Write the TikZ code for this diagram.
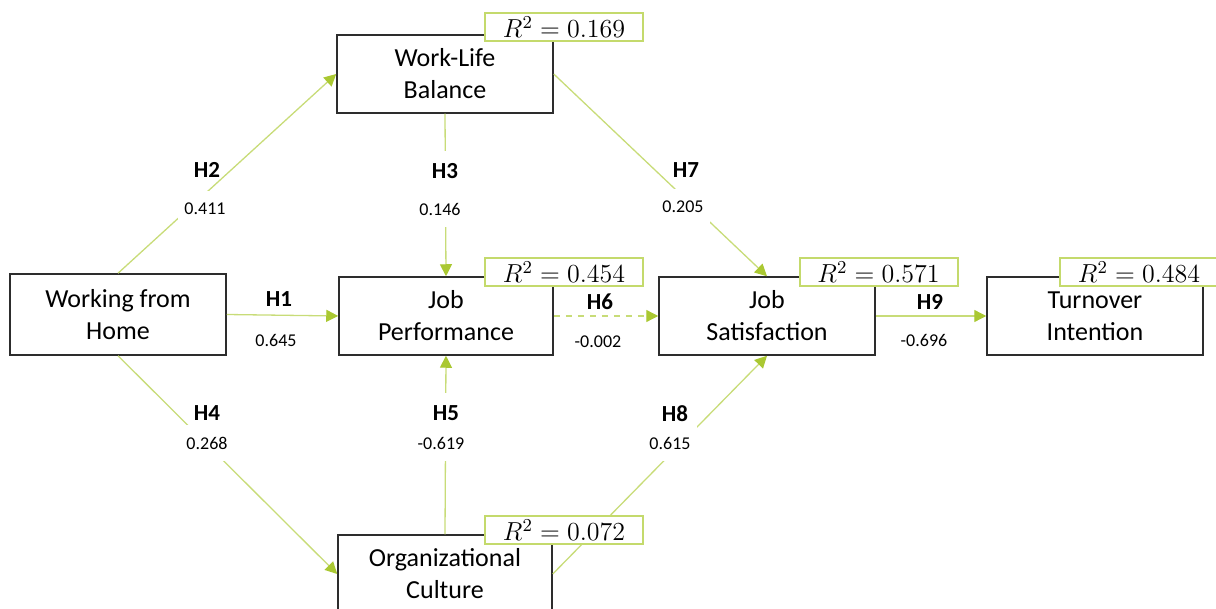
\RequirePackage{fix-cm}
\documentclass[tikz,border=0pt]{standalone}
\usepackage{fontspec}
\setmainfont{Carlito}
\usetikzlibrary{arrows.meta}
\definecolor{edgegreen}{RGB}{200,220,120}
\definecolor{tipgreen}{RGB}{170,200,50}
\definecolor{rsqgreen}{RGB}{196,218,108}
\definecolor{boxgray}{RGB}{45,45,45}
\tikzset{
  construct/.style={draw=boxgray, line width=0.75pt, fill=white, minimum width=108pt,
    minimum height=39pt, align=center, font=\fontsize{13}{16}\selectfont},
  rsq/.style={draw=rsqgreen, line width=1pt, fill=white, minimum width=79pt,
    minimum height=14pt, inner sep=0pt, font=\fontsize{13}{14}\selectfont},
  link/.style={draw=edgegreen, line width=0.65pt,
    -{Triangle[length=6pt,width=6pt,color=tipgreen]}},
  hyp/.style={inner xsep=3pt, inner ysep=6pt,
    font=\fontsize{11.5}{12}\selectfont\bfseries},
  est/.style={inner xsep=3pt, inner ysep=6pt,
    font=\fontsize{9}{10}\selectfont},
  gap/.style={fill=white},
}
\begin{document}
\begin{tikzpicture}[x=0.5pt,y=-0.5pt]
  \useasboundingbox (0,0) rectangle (1216,609);
  % constructs
  \node[construct, minimum height=40.5pt] (wfh) at (118,314.5) {Working from\\Home};
  \node[construct] (wlb) at (445,74) {Work-Life\\Balance};
  \node[construct, minimum width=107pt] (jp) at (446,316) {Job\\Performance};
  \node[construct] (js) at (767,316) {Job\\Satisfaction};
  \node[construct] (ti) at (1095,316) {Turnover\\Intention};
  \node[construct, minimum width=107pt] (oc) at (445,574) {Organizational\\Culture};
  % paths
  \begin{scope}[link]
    \draw (wfh.east) to (jp.west);
    \draw (wfh.north) to (wlb.west);
    \draw (wlb.south) to (jp.north);
    \draw (wfh.south) to (oc.west);
    \draw (oc.north) to (jp.south);
    \draw[dashed] (jp.east) to (js.west);
    \draw (wlb.east) to (js.north);
    \draw (oc.east) to (js.south);
    \draw (js.east) to (ti.west);
  \end{scope}
  % hypotheses and estimates
  \node[hyp] (h1) at (279,299) {H1};
  \node[est] (b1) at (276,340) {0.645};
  \node[hyp] (h2) at (207,170) {H2};
  \node[est, gap] (b2) at (205,209) {0.411};
  \node[hyp, gap] (h3) at (445,171) {H3};
  \node[est, gap] (b3) at (440,209) {0.146};
  \node[hyp] (h4) at (207,413) {H4};
  \node[est, gap] (b4) at (207,443) {0.268};
  \node[hyp, gap] (h5) at (446,413) {H5};
  \node[est, gap] (b5) at (441,443) {-0.619};
  \node[hyp] (h6) at (600,302) {H6};
  \node[est] (b6) at (598,342) {-0.002};
  \node[hyp] (h7) at (686,170) {H7};
  \node[est, gap] (b7) at (683,207) {0.205};
  \node[hyp] (h8) at (675,414) {H8};
  \node[est, gap] (b8) at (670,443) {0.615};
  \node[hyp] (h9) at (930,302) {H9};
  \node[est] (b9) at (924,340) {-0.696};
  % explained variance
  \node[rsq] (r2wlb) at (564,27) {$R^2 = 0.169$};
  \node[rsq] (r2jp) at (564,272) {$R^2 = 0.454$};
  \node[rsq] (r2js) at (878.5,272) {$R^2 = 0.571$};
  \node[rsq] (r2ti) at (1139,272) {$R^2 = 0.484$};
  \node[rsq] (r2oc) at (564,530) {$R^2 = 0.072$};
\end{tikzpicture}
\end{document}
